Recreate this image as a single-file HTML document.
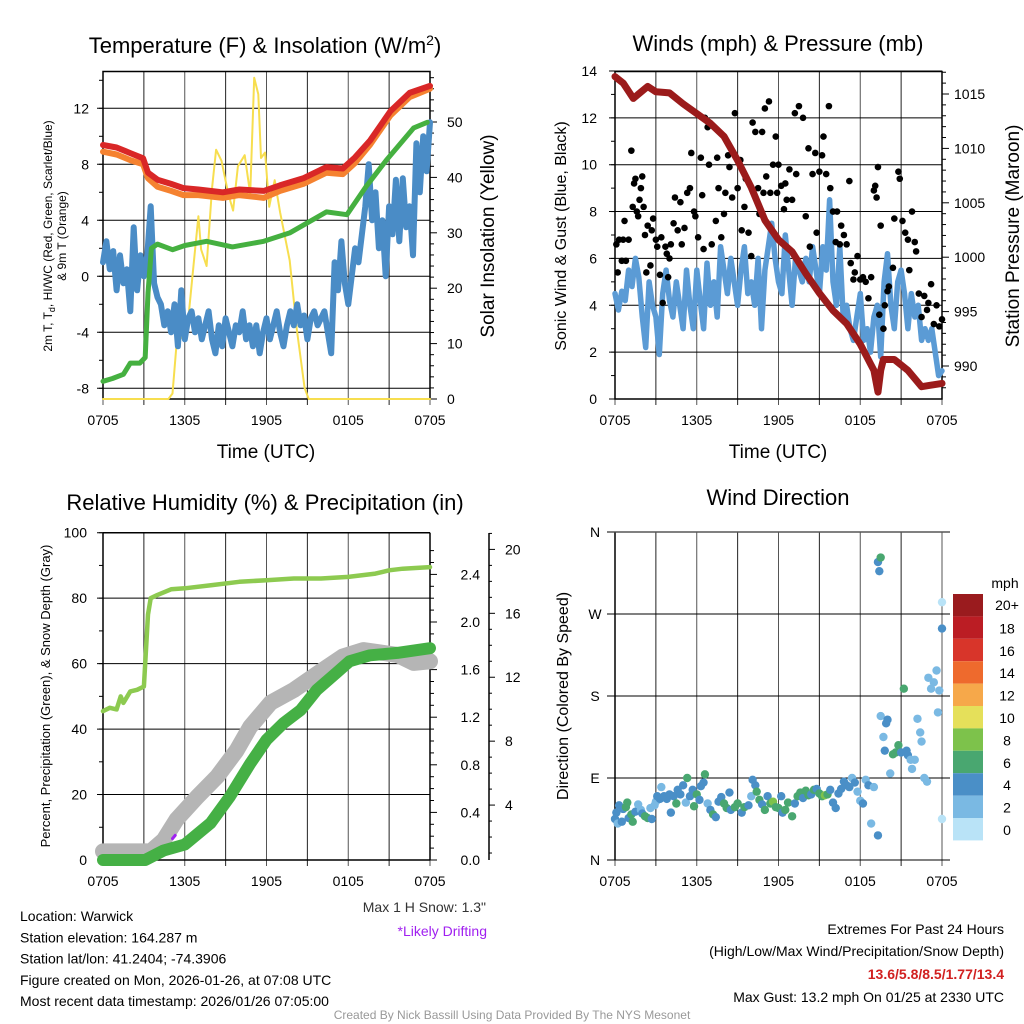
<!DOCTYPE html>
<html><head><meta charset="utf-8"><style>
body{margin:0;background:#fff}
svg{display:block;font-family:"Liberation Sans",sans-serif}
</style></head><body>
<svg id="s" width="1024" height="1024" viewBox="0 0 1024 1024"></svg>
<script>
// ---------- data ----------
const timeLabels=["0705","1305","1905","0105","0705"];
const tempRed=[[0,9.38],[1,9.2],[2,8.8],[2.94,8.43],[3.3,7.4],[4,6.9],[5,6.6],[5.9,6.3],[7,6.2],[8.8,6.0],[10,6.2],[11.8,6.1],[13,6.5],[14.7,7.0],[16.4,7.8],[17.6,7.7],[18.5,8.5],[19.6,9.7],[21.1,11.8],[22.5,13.1],[24,13.6]];
const tempOrange=[[0,8.9],[1,8.7],[2,8.3],[2.94,8.0],[3.3,7.0],[4,6.4],[5,6.1],[5.9,5.8],[7,5.8],[8.8,5.6],[10,5.8],[11.8,5.6],[13,6.1],[14.7,6.6],[16.4,7.4],[17.6,7.3],[18.5,8.1],[19.6,9.4],[21.1,11.5],[22.5,12.8],[24,13.4]];
const tempGreen=[[0,-7.5],[0.7,-7.3],[1.5,-7.0],[2,-6.2],[2.7,-6.2],[3.1,-5.8],[3.3,-1.2],[3.55,2.0],[4,2.3],[5.1,1.9],[6,2.2],[7.6,2.5],[9.5,2.1],[11.8,2.5],[13.7,3.1],[16.4,4.6],[17.9,4.4],[19.3,6.4],[20.8,8.3],[22.8,10.6],[23.8,11.0]];
const tempBlue=[1,2.5,0.5,1.8,-1,1.5,-0.5,0.5,-2.5,3.5,-1,1.5,0,1.5,5,-0.5,-1.5,-2,-3.5,-2.5,-4,-2,-5,-1,-4.5,-3,-2.5,-4,-3,-4.5,-3.5,-2.5,-4.5,-5.5,-3.5,-5,-3,-4,-5,-3.5,-4,-2.5,-4.5,-3.5,-5,-3.5,-5.5,-4,-3,-4.5,-3.5,-2.5,-4,-5,-3.5,-2.5,-3.5,-2,-3.5,-2.8,-4.5,-3,-2.5,-3.5,-3,-2.5,-4,-5.5,1,-1,2.5,-0.5,-2,0,2,1,3,5,8,4,6,2,4,0,5,3,6.9,2.5,7,3.5,5,1.5,9.5,6,10,7.5,11];
const solar=[[0,0],[4.8,0],[5.1,1],[5.4,10],[5.6,18.5],[5.8,11],[6.2,13],[6.6,23],[7.0,33],[7.2,27],[7.6,24],[8.0,38],[8.3,45],[8.7,43],[9.2,37],[9.55,34],[9.9,42],[10.4,44],[10.8,37],[11.1,58],[11.4,55],[11.6,43.5],[11.9,44.5],[12.2,34.7],[12.6,39.5],[13,33.7],[13.7,25],[14.2,13],[14.8,2],[15.1,0],[24,0]];
const wind=[4.5,3.8,4.6,4.2,5.5,4.8,6,5.2,3.5,2.2,5,4,3.5,1.9,4.5,5.5,4.2,3.5,5,4,3,5.5,4,3,5.5,4.2,3,5.8,4,5,3.5,6.5,5.5,4.5,6,5,4,5.5,6.5,4.5,5,4,6,3,5.5,6.5,7.5,6,5,4.5,7,5.5,4,6,5.5,5,6,5,6.5,5.5,4.5,6.5,5.5,8.5,5,4,6.5,3.5,4,3,2.5,3.5,4.5,2.5,3,2,3.5,4,1.8,5,6.2,4,3,5,5.5,4.5,3,4.5,3.5,4,2.5,3,2.5,3,2,1,1.2];
const gustT=[0.1,0.2,0.3,0.5,0.6,0.7,0.8,1.0,1.2,1.3,1.4,1.5,1.6,1.7,1.8,1.9,2.0,2.1,2.2,2.3,2.4,2.6,2.7,2.8,3.0,3.1,3.3,3.4,3.5,3.7,3.8,3.9,4.0,4.1,4.3,4.4,4.6,4.8,4.9,5.1,5.3,5.5,5.6,5.8,5.9,6.1,6.3,6.4,6.5,6.6,6.8,6.9,7.1,7.4,7.5,7.6,7.8,8.0,8.1,8.3,8.4,8.6,8.8,9.0,9.2,9.3,9.5,9.6,9.8,10.0,10.1,10.3,10.5,10.6,10.8,10.9,11.0,11.1,11.3,11.4,11.6,11.8,11.9,12.0,12.2,12.4,12.5,12.6,12.8,13.0,13.2,13.3,13.5,13.8,14.0,14.2,14.3,14.5,14.7,14.8,15.0,15.2,15.3,15.5,15.7,15.8,16.0,16.2,16.3,16.5,16.6,16.8,17.0,17.2,17.3,17.5,17.6,17.8,18.0,18.2,18.4,18.6,18.8,19.0,19.1,19.2,19.3,19.4,19.5,19.7,19.8,20.0,20.1,20.4,20.5,20.8,20.9,21.1,21.3,21.5,21.6,21.8,22.0,22.1,22.3,22.5,22.7,22.9,23.0,23.2,23.4,23.6,23.8,24.0];
const gustV=[6.6,5.4,6.8,5.9,6.8,7.6,5.9,6.8,10.6,8.2,9.2,9.4,8.0,7.8,8.5,9.0,9.5,8.2,7.0,5.4,7.4,5.7,7.2,7.7,6.8,6.5,5.3,6.9,4.1,6.5,6.2,5.2,6.0,6.6,7.5,8.6,7.2,8.4,6.6,7.3,8.8,9.0,10.5,8.0,7.8,6.9,10.3,8.7,6.4,12.0,11.6,10.0,6.6,7.6,10.3,9.0,6.9,7.9,8.8,10.4,9.9,8.6,12.2,9.0,10.2,7.2,8.2,9.4,7.1,6.1,11.8,11.4,9.0,7.9,11.4,8.8,12.4,9.5,12.7,8.8,10.0,11.2,8.8,10.0,9.1,8.1,9.2,8.5,9.8,8.5,12.2,9.6,12.5,12.0,7.8,10.7,6.5,9.6,10.5,7.1,9.7,10.4,11.2,9.6,12.5,9.0,8.0,6.7,8.0,6.6,7.4,7.0,6.6,9.3,5.8,5.1,5.4,6.1,5.1,5.2,5.0,4.3,5.2,8.9,9.1,8.6,9.9,3.6,7.4,3.0,4.0,4.6,4.8,5.6,7.7,9.7,9.4,7.6,7.1,6.8,5.5,8.0,6.7,6.3,4.5,3.5,4.4,3.8,4.1,4.9,3.2,4.0,3.1,3.4];
const pressure=[[0,1016.6],[0.6,1016],[1.34,1014.6],[2.4,1015.7],[3,1015.2],[4,1015.1],[5,1014.1],[6,1013.2],[7,1012.3],[8,1011.1],[9,1008.9],[10,1006.4],[11,1003.4],[12,1001.6],[13,1000.5],[14,998.5],[15,996.7],[16,995.1],[17,993.9],[18,992.0],[19,989.6],[19.3,987.6],[19.5,989.6],[19.7,990.6],[20.5,990.6],[21.5,989.6],[22.5,988.1],[23,988.2],[24,988.4]];
const rh=[[0,45.5],[0.5,46.5],[1,46],[1.3,50],[1.5,48],[2,51.5],[2.5,52],[3,53],[3.1,60],[3.3,75],[3.5,80],[4,81],[5,82.7],[6,83],[8,84],[10,85],[12,85.5],[14,86],[16,86],[18,86.5],[20,87.5],[21,88.5],[22,89],[24,89.5]];
const precip=[[0,0],[3.1,0],[4.45,0.08],[6,0.13],[7.9,0.31],[9.3,0.53],[10.8,0.81],[12,1.01],[13.25,1.15],[14.5,1.26],[15.7,1.43],[17.2,1.58],[18.1,1.67],[19.6,1.72],[21.6,1.74],[24,1.78]];
const snow=[[0,1.1],[3.5,1.1],[4.45,1.8],[5.4,3.1],[6.9,4.5],[8.4,5.8],[9.8,7.4],[10.8,8.9],[12.3,10.4],[14,11.2],[15.7,12.2],[17.6,13.3],[19.1,13.7],[21.6,13.4],[22.8,12.9],[24,13.0]];
const drift=[[5.1,1.9],[5.3,2.1]];
const dirT=[0,0.1,0.2,0.3,0.5,0.6,0.8,0.9,1.0,1.2,1.3,1.5,1.7,1.9,2.0,2.2,2.4,2.6,2.7,2.9,3.0,3.1,3.3,3.4,3.6,3.8,4.0,4.1,4.3,4.5,4.6,4.8,5.0,5.2,5.3,5.5,5.7,5.8,6.0,6.2,6.3,6.5,6.6,6.8,7.0,7.2,7.4,7.6,7.8,8.0,8.2,8.4,8.5,8.8,9.0,9.3,9.5,9.8,10.0,10.1,10.3,10.4,10.6,10.8,11.0,11.2,11.4,11.6,11.8,12.0,12.2,12.3,12.5,12.7,13.0,13.2,13.4,13.6,13.8,14.0,14.2,14.4,14.6,14.8,15.0,15.2,15.4,15.6,15.8,16.0,16.2,16.4,16.6,16.8,17.0,17.2,17.4,17.6,17.8,18.0,18.2,18.4,18.6,18.8,19.0,19.3,19.5,19.7,19.8,19.9,20.0,20.2,20.4,20.6,20.8,21.0,21.2,21.4,21.5,21.7,21.8,22.0,22.2,22.4,22.5,22.7,22.9,23.0,23.2,23.4,23.6,23.7,23.8,24.0,24.0,19.3,19.4,19.5,24.0];
const dirD=[45,52,40,60,42,56,58,63,46,50,42,53,61,55,51,48,46,57,45,60,64,70,67,80,70,67,72,52,70,62,77,72,82,63,90,70,77,59,72,66,81,85,94,62,55,50,47,64,69,62,57,74,55,58,62,52,58,60,70,88,82,75,66,61,55,70,62,64,58,57,70,52,55,63,48,62,70,74,68,76,71,72,77,78,73,70,71,72,77,63,57,73,78,86,82,80,90,85,75,65,62,88,82,40,80,27,158,135,120,150,154,95,116,118,126,118,188,120,115,110,100,110,155,140,130,90,86,200,188,195,208,162,186,283,254,327,317,332,45];
const dirS=[4,4,2,4,4,4,6,6,4,6,6,4,2,2,4,6,6,2,4,2,2,4,4,2,4,4,4,4,4,6,4,4,4,2,6,4,4,6,6,4,4,4,6,2,4,6,4,4,4,6,6,4,4,6,6,4,6,4,2,4,4,6,6,4,6,4,6,8,6,6,4,4,6,6,6,4,6,6,4,6,6,4,6,4,6,6,8,6,4,4,4,4,4,4,4,4,2,4,2,2,4,2,4,2,2,4,2,2,4,4,4,2,6,6,6,4,6,4,4,2,2,2,2,2,2,2,2,2,2,2,2,2,2,0,4,4,4,6,0];
const cbLabels=["20+","18","16","14","12","10","8","6","4","2","0"];
const cbColors=["#9a1b1e","#bb1d24","#d8352a","#ee6a2d","#f6a84a","#e5e05a","#7dc24b","#49a770","#4a8fc7","#7ab9e3","#b9e3f7"];

// ---------- helpers ----------
const S=document.getElementById('s');const NS="http://www.w3.org/2000/svg";
function el(tag,at,parent){const e=document.createElementNS(NS,tag);for(const k in at)e.setAttribute(k,at[k]);(parent||S).appendChild(e);return e;}
function txt(x,y,s,size,anchor,name,extra){const e=el('text',Object.assign({x:x,y:y,'font-size':size,'text-anchor':anchor||'middle',fill:'#000'},extra||{}));e.textContent=s;


return e;}
function path(pts,fx,fy,stroke,w,name,opac){const d=pts.map((p,i)=>(i?'L':'M')+fx(p[0]).toFixed(1)+','+fy(p[1]).toFixed(1)).join('');const e=el('path',{d:d,fill:'none',stroke:stroke,'stroke-width':w,'stroke-linejoin':'round','stroke-linecap':'round'});if(opac)e.setAttribute('opacity',opac);


return e;}
function xs(x0,x1){return h=>x0+(x1-x0)*h/24;}
function timeAxis(x0,x1,yb,ytop,name){const fx=xs(x0,x1);
 for(let i=0;i<=8;i++){const x=fx(i*3);const l=el('line',{x1:x,x2:x,y1:ytop,y2:yb+6,stroke:i%2?'#222':'#555','stroke-width':1});
 
 }
 timeLabels.forEach((t,i)=>txt(fx(i*6),yb+26,t,14,'middle',name+'-x-tick'));}
function hgrid(x0,x1,y,name){const l=el('line',{x1:x0-6,x2:x1,y1:y,y2:y,stroke:'#000','stroke-width':1});
 
 }

// ---------- Panel 1: Temperature ----------
(function(){const x0=103,x1=430,top=71.5,bot=399;const fx=xs(x0,x1);const fy=v=>276.3-14*v;const fs=v=>399-5.54*v;
 const t=txt(265,53,"Temperature (F) & Insolation (W/m",22,'middle','temp-title');const sp=el('tspan',{dy:-8,'font-size':14},t);sp.textContent='2';const sp2=el('tspan',{dy:8},t);sp2.textContent=')';
 timeAxis(x0,x1,bot,top,'temp');
 [-8,-4,0,4,8,12].forEach(v=>{hgrid(x0,x1,fy(v),'temp-hgrid');txt(x0-14,fy(v)+5,String(v),14,'end','temp-y-tick');});
 for(let v=-8;v<=14;v+=2){el('line',{x1:x0-4,x2:x0,y1:fy(v),y2:fy(v),stroke:'#000'});}
 for(let v=0;v<=58;v+=2){el('line',{x1:x1,x2:x1+(v%10?4:7),y1:fs(v),y2:fs(v),stroke:'#000'});}
 [0,10,20,30,40,50].forEach(v=>txt(x1+17,fs(v)+5,String(v),14,'start','solar-y-tick'));
 el('rect',{x:x0,y:top,width:x1-x0,height:bot-top,fill:'none',stroke:'#000','stroke-width':1.5});
 path(solar,fx,fs,'#f7de4f',2,'solar-line');
 path(tempBlue.map((v,i)=>[i*0.25,v]),fx,fy,'#4a8cc6',6,'temp-blue-line');
 path(tempGreen,fx,fy,'#45b040',5,'temp-green-line');
 path(tempOrange,fx,fy,'#f58230',6,'temp-orange-line');
 path(tempRed,fx,fy,'#d92727',6,'temp-red-line');
 txt(266,458,"Time (UTC)",19,'middle','temp-x-title');
 txt(0,0,"Solar Insolation (Yellow)",19,'middle','solar-y-title',{transform:'translate(494,236) rotate(-90)'});
 const yl=txt(0,0,"",12,'middle','temp-y-title',{transform:'translate(52,236) rotate(-90)'});
 const a=el('tspan',{x:0,dy:0},yl);a.textContent="2m T, T";const b=el('tspan',{dy:3,'font-size':9},yl);b.textContent="d";const c=el('tspan',{dy:-3},yl);c.textContent=", HI/WC (Red, Green, Scarlet/Blue)";const d=el('tspan',{x:0,dy:14},yl);d.textContent="& 9m T (Orange)";
})();

// ---------- Panel 2: Winds ----------
(function(){const x0=615,x1=942,top=71.5,bot=399;const fx=xs(x0,x1);const fy=v=>399-23.43*v;const fp=p=>94+(1015-p)*10.88;
 txt(778,51,"Winds (mph) & Pressure (mb)",22,'middle','wind-title');
 timeAxis(x0,x1,bot,top,'wind');
 [0,2,4,6,8,10,12,14].forEach(v=>{hgrid(x0,x1,fy(v),'wind-hgrid');txt(x0-18,fy(v)+5,String(v),14,'end','wind-y-tick');});
 for(let v=0;v<=14;v+=1)el('line',{x1:x0-4,x2:x0,y1:fy(v),y2:fy(v),stroke:'#000'});
 for(let p=988;p<=1017;p++){el('line',{x1:x1,x2:x1+(p%5?4:7),y1:fp(p),y2:fp(p),stroke:'#000'});}
 [990,995,1000,1005,1010,1015].forEach(p=>txt(x1+12,fp(p)+5,String(p),14,'start','pressure-y-tick'));
 el('rect',{x:x0,y:top,width:x1-x0,height:bot-top,fill:'none',stroke:'#000','stroke-width':1.5});
 path(wind.map((v,i)=>[i*0.25,v]),fx,fy,'#5b9bd5',5.5,'wind-speed-line');
 gustT.forEach((h,i)=>{const c=el('circle',{cx:fx(h),cy:fy(gustV[i]),r:3.3,fill:'#000'});
  
  });
 path(pressure,fx,fp,'#9b1b1b',7,'pressure-line');
 txt(778,458,"Time (UTC)",19,'middle','wind-x-title');
 txt(0,0,"Sonic Wind & Gust (Blue, Black)",16,'middle','wind-y-title',{transform:'translate(566,236) rotate(-90)'});
 txt(0,0,"Station Pressure (Maroon)",19,'middle','pressure-y-title',{transform:'translate(1019,236) rotate(-90)'});
})();

// ---------- Panel 3: RH & Precip ----------
(function(){const x0=103,x1=430,top=532.7,bot=860;const fx=xs(x0,x1);const fy=v=>860-3.273*v;const fpr=v=>860-119*v;const fsn=v=>869-15.98*v;
 txt(265,510,"Relative Humidity (%) & Precipitation (in)",22,'middle','rh-title');
 timeAxis(x0,x1,bot,top,'rh');
 [0,20,40,60,80,100].forEach(v=>{hgrid(x0,x1,fy(v),'rh-hgrid');txt(x0-16,fy(v)+5,String(v),14,'end','rh-y-tick');});
 for(let v=0;v<=100;v+=10)el('line',{x1:x0-4,x2:x0,y1:fy(v),y2:fy(v),stroke:'#000'});
 for(let v=0;v<=2.7;v+=0.1){el('line',{x1:x1,x2:x1+(Math.round(v*10)%4?4:7),y1:fpr(v),y2:fpr(v),stroke:'#000'});}
 [0,0.4,0.8,1.2,1.6,2.0,2.4].forEach(v=>txt(x1+50,fpr(v)+5,v.toFixed(1),14,'end','precip-y-tick'));
 el('line',{x1:489,x2:489,y1:533,y2:860,stroke:'#000','stroke-width':1.5});
 for(let v=1;v<=21;v++){el('line',{x1:489,x2:489+(v%4?3:6),y1:fsn(v),y2:fsn(v),stroke:'#000'});}
 [4,8,12,16,20].forEach(v=>txt(505,fsn(v)+5,String(v),14,'start','snow-y-tick'));
 el('line',{x1:x0,x2:x0,y1:top,y2:bot,stroke:'#000','stroke-width':1.5});
 el('line',{x1:x1,x2:x1,y1:top,y2:bot,stroke:'#000','stroke-width':1.5});
 el('line',{x1:x0,x2:x1,y1:bot,y2:bot,stroke:'#000','stroke-width':1.5});
 el('line',{x1:x0,x2:x1,y1:top,y2:top,stroke:'#000','stroke-width':1.5});
 path(snow,fx,fsn,'#b5b5b5',16,'snow-depth-line');
 path(drift,fx,fsn,'#a020f0',3,'drift-marker');
 path(precip,fx,fpr,'#45b045',12,'precip-line');
 path(rh,fx,fy,'#8dca50',4.5,'rh-line');
 txt(0,0,"Percent, Precipitation (Green), & Snow Depth (Gray)",13,'middle','rh-y-title',{transform:'translate(50,696) rotate(-90)'});
})();

// ---------- Panel 4: Wind Direction ----------
(function(){const x0=615,x1=942,top=532.7,bot=860;const fx=xs(x0,x1);const fd=d=>860-d*0.9111;
 txt(778,505,"Wind Direction",22,'middle','direction-title');
 timeAxis(x0,x1,bot,top,'direction');
 [["N",0],["E",90],["S",180],["W",270],["N",360]].forEach(a=>{const y=fd(a[1]);const l=el('line',{x1:x0-8,x2:950,y1:y,y2:y,stroke:'#000'});
  
  
  txt(x0-20,y+5,a[0],14,'middle','direction-y-tick');});
 el('line',{x1:x0,x2:x0,y1:top,y2:bot,stroke:'#000','stroke-width':1.5});
 function col(s){const i=Math.min(10,Math.floor(s/2));return cbColors[10-i];}
 dirT.forEach((h,i)=>{const c=el('circle',{cx:fx(h),cy:fd(dirD[i]),r:4.2,fill:col(dirS[i])});
  
  });
 txt(0,0,"Direction (Colored By Speed)",16,'middle','direction-y-title',{transform:'translate(568,696) rotate(-90)'});
 txt(1005,588,"mph",14,'middle','colorbar-title');
 const h=22.4;cbColors.forEach((c,i)=>{const r=el('rect',{x:953,y:594+i*h,width:30,height:h,fill:c});
  
  
  txt(1007,594+i*h+(i?17:16),cbLabels[i],14,'middle','colorbar-label');});
})();

// ---------- footer text ----------
txt(486,912,'Max 1 H Snow: 1.3"',14,'end','max-snow-note',{fill:'#333'});
txt(487,936,"*Likely Drifting",14,'end','drifting-note',{fill:'#a020f0'});
["Location: Warwick","Station elevation: 164.287 m","Station lat/lon: 41.2404; -74.3906","Figure created on Mon, 2026-01-26, at 07:08 UTC","Most recent data timestamp: 2026/01/26 07:05:00"].forEach((s,i)=>txt(20,921+i*21.3,s,14,'start','station-info-'+i));
txt(1004,934,"Extremes For Past 24 Hours",14,'end','extremes-title');
txt(1004,956,"(High/Low/Max Wind/Precipitation/Snow Depth)",14,'end','extremes-subtitle');
txt(1004,979,"13.6/5.8/8.5/1.77/13.4",14,'end','extremes-values',{fill:'#d12020','font-weight':'bold'});
txt(1004,1002,"Max Gust: 13.2 mph On 01/25 at 2330 UTC",14,'end','max-gust');
txt(512,1019,"Created By Nick Bassill Using Data Provided By The NYS Mesonet",12,'middle','credit',{fill:'#999'});
</script>
</body></html>
